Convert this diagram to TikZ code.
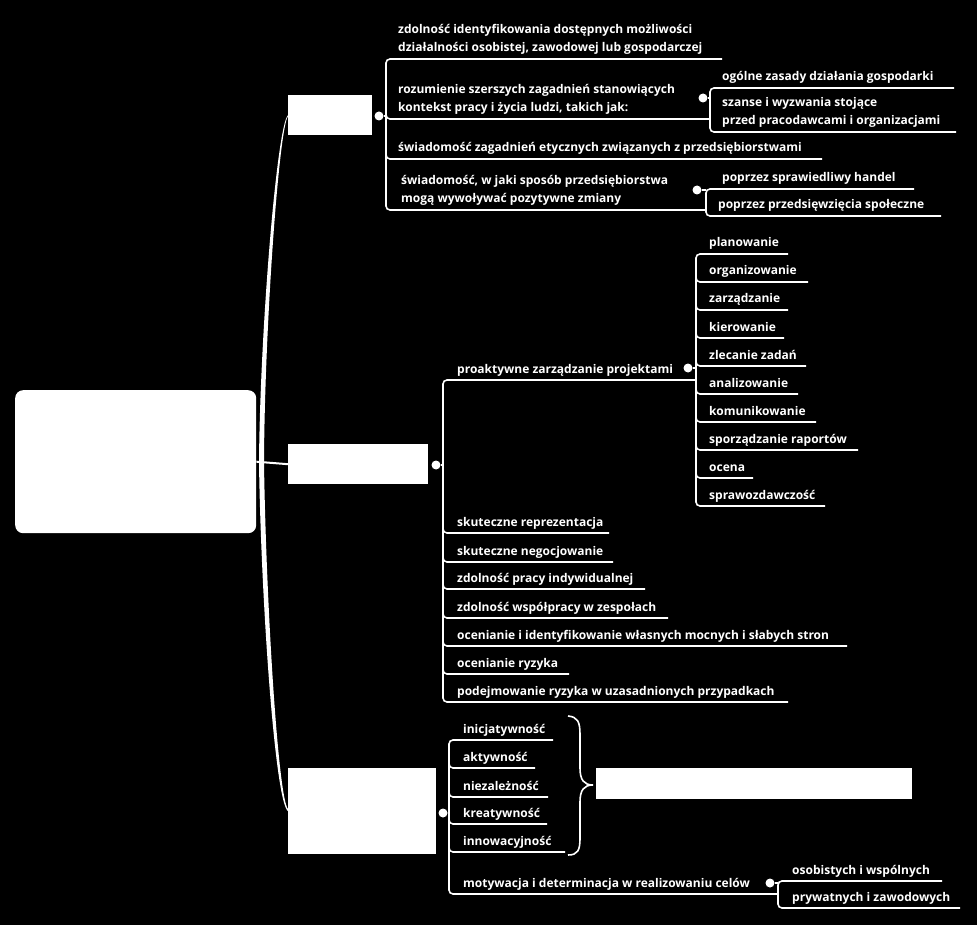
\documentclass[tikz,border=0pt]{standalone}
\usepackage{fontspec}
\setmainfont{Open Sans}
\newcommand\lnode[4]{\node[leaf] (#1) at (#2,#3-7) {\begin{tabular}[b]{@{}l@{}}#4\end{tabular}};}
\newcommand\uline[3]{\draw[conn] (#1,#2-10) |- (#3,#2);}
\begin{document}
\begin{tikzpicture}[x=1pt,y=-1pt,
  conn/.style={draw=white, line width=1.6pt, rounded corners=4pt},
  leaf/.style={text=white, font=\bfseries\fontsize{12}{18}\selectfont, inner sep=0pt, anchor=base west},
  topic/.style={fill=white, draw=none, inner sep=0pt, anchor=north west},
  dotc/.style={circle, fill=white, inner sep=0pt, minimum size=9pt}]
\fill[black] (0,0) rectangle (977,925);
\useasboundingbox (0,0) rectangle (977,925);

% topics
\node[topic, rounded corners=8pt, minimum width=241pt, minimum height=143pt] (root) at (15,390) {};
\node[topic, minimum width=84pt, minimum height=40pt] (box1) at (288,95) {};
\node[topic, minimum width=140pt, minimum height=40pt] (box2) at (288,444) {};
\node[topic, minimum width=148pt, minimum height=86pt] (box3) at (288,768) {};
\node[topic, minimum width=316pt, minimum height=31pt] (bracebox) at (596,768) {};

% trunk
\fill[white] (259,463) .. controls (260,330) and (277,125) .. (box1.west) -- (288,116.5) .. controls (279,127) and (264.5,330) .. (264,463) -- cycle;
\fill[white] (259,463) .. controls (261,600) and (275,802) .. (box3.west) -- (288,809) .. controls (278,798) and (266,600) .. (264,463) -- cycle;
\draw[white, line width=2pt] (root.east) -- (box2.west);

% dots
\node[dotc] (d1) at (379,116) {};
\node[dotc] (d2) at (436,465) {};
\node[dotc] (d3) at (443,813) {};
\node[dotc] (da2) at (703,98) {};
\node[dotc] (da4) at (697,190) {};
\node[dotc] (db1) at (688,368) {};
\node[dotc] (dd6) at (770,883) {};
\draw[conn] (d1) -- (386,116);
\draw[conn] (d2) -- (443,465);
\draw[conn] (d3) -- (449,813);

% ---------- box1 branch
\lnode{a1}{398}{59}{zdolność identyfikowania dostępnych możliwości\\działalności osobistej, zawodowej lub gospodarczej}
\lnode{a2}{398}{119}{rozumienie szerszych zagadnień stanowiących\\kontekst pracy i życia ludzi, takich jak:}
\lnode{a3}{398}{159}{świadomość zagadnień etycznych związanych z przedsiębiorstwami}
\lnode{a4}{401}{210}{świadomość, w jaki sposób przedsiębiorstwa\\mogą wywoływać pozytywne zmiany}
\draw[conn] (722,59) -| (386,210) -- (706,210);
\uline{386}{119}{710}
\uline{386}{159}{822}

\lnode{a21}{722}{88}{ogólne zasady działania gospodarki}
\lnode{a22}{722}{132}{szanse i wyzwania stojące\\przed pracodawcami i organizacjami}
\draw[conn] (954,88) -| (710,132) -- (956,132);
\draw[conn] (da2) -- (710,98);

\lnode{a41}{722}{189}{poprzez sprawiedliwy handel}
\lnode{a42}{718}{216}{poprzez przedsięwzięcia społeczne}
\draw[conn] (914,189) -| (706,216) -- (941,216);
\draw[conn] (da4) -- (706,190);

% ---------- box2 branch
\lnode{b1}{457}{380}{proaktywne zarządzanie projektami}
\lnode{b2}{457}{533}{skuteczne reprezentacja}
\lnode{b3}{457}{562}{skuteczne negocjowanie}
\lnode{b4}{457}{589}{zdolność pracy indywidualnej}
\lnode{b5}{457}{618}{zdolność współpracy w zespołach}
\lnode{b6}{457}{646}{ocenianie i identyfikowanie własnych mocnych i słabych stron}
\lnode{b7}{457}{674}{ocenianie ryzyka}
\lnode{b8}{457}{702}{podejmowanie ryzyka w uzasadnionych przypadkach}
\draw[conn] (696,380) -| (443,702) -- (788,702);
\uline{443}{533}{609}
\uline{443}{562}{613}
\uline{443}{589}{645}
\uline{443}{618}{668}
\uline{443}{646}{847}
\uline{443}{674}{569}

\lnode{c1}{709}{254}{planowanie}
\lnode{c2}{709}{282}{organizowanie}
\lnode{c3}{709}{310}{zarządzanie}
\lnode{c4}{709}{338}{kierowanie}
\lnode{c5}{709}{366}{zlecanie zadań}
\lnode{c6}{709}{394}{analizowanie}
\lnode{c7}{709}{422}{komunikowanie}
\lnode{c8}{709}{450}{sporządzanie raportów}
\lnode{c9}{709}{478}{ocena}
\lnode{c10}{709}{506}{sprawozdawczość}
\draw[conn] (788,254) -| (696,506) -- (825,506);
\uline{696}{282}{808}
\uline{696}{310}{788}
\uline{696}{338}{784}
\uline{696}{366}{806}
\uline{696}{394}{798}
\uline{696}{422}{816}
\uline{696}{450}{858}
\uline{696}{478}{753}
\draw[conn] (db1) -- (696,368);

% ---------- box3 branch
\lnode{d1t}{463}{740}{inicjatywność}
\lnode{d2t}{463}{768}{aktywność}
\lnode{d3t}{463}{797}{niezależność}
\lnode{d4t}{463}{824}{kreatywność}
\lnode{d5t}{463}{852}{innowacyjność}
\lnode{d6t}{463}{894}{motywacja i determinacja w realizowaniu celów}
\draw[conn] (553,740) -| (449,894) -- (778,894);
\uline{449}{768}{535}
\uline{449}{797}{548}
\uline{449}{824}{547}
\uline{449}{852}{565}

\lnode{e1}{792}{881}{osobistych i wspólnych}
\lnode{e2}{792}{908}{prywatnych i zawodowych}
\draw[conn] (942,881) -| (778,908) -- (960,908);
\draw[conn] (dd6) -- (778,883);

% brace
\coordinate (brtop) at (568,716);
\coordinate (brbot) at (568,855);
\draw[white, line width=1.6pt] (brtop) .. controls (578,717) and (580,722) .. (580,735) -- (580,768) .. controls (580,780) and (584,785) .. (593,785) .. controls (584,785) and (580,790) .. (580,802) -- (580,838) .. controls (580,850) and (578,855) .. (brbot);
\end{tikzpicture}
\end{document}
